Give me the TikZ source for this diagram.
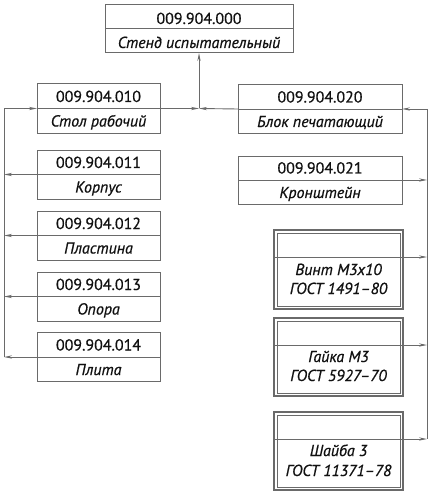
\documentclass[tikz,border=0pt]{standalone}
\usepackage{fontspec}
\setmainfont[FakeBold=0.7]{PT Sans}
\usetikzlibrary{arrows.meta,calc}
\definecolor{ln}{HTML}{6A6A6A}
\definecolor{tx}{HTML}{111111}
\begin{document}
\begin{tikzpicture}[x=1bp,y=-1bp,
 box/.style={draw=ln,line width=1pt,rectangle,inner sep=0,outer sep=0},
 num/.style={text=tx,font=\fontsize{16}{19}\selectfont,inner sep=0,anchor=base},
 nm/.style={text=tx,font=\fontsize{16}{19}\selectfont\itshape,inner sep=0,anchor=base},
 con/.style={draw=ln,line width=0.9pt},
 arr/.style={-{Stealth[length=8bp,width=3.2bp]}}
]
\useasboundingbox (0,0) rectangle (437,500);
% simple boxes
\node[box,minimum width=188bp,minimum height=48bp] (n000) at (199,29) {};
\node[box,minimum width=123bp,minimum height=49bp] (n010) at (98.5,108.5) {};
\node[box,minimum width=123bp,minimum height=49bp] (n011) at (98.5,174.5) {};
\node[box,minimum width=123bp,minimum height=49bp] (n012) at (98.5,235.5) {};
\node[box,minimum width=123bp,minimum height=49bp] (n013) at (98.5,296.5) {};
\node[box,minimum width=123bp,minimum height=49bp] (n014) at (98.5,357) {};
\node[box,minimum width=164bp,minimum height=48bp] (n020) at (320,109) {};
\node[box,minimum width=164bp,minimum height=48bp] (n021) at (320,180) {};
\foreach \b in {n000,n010,n011,n012,n013,n014,n020,n021}
  \draw[ln,line width=1pt] (\b.west) -- (\b.east);
% texts
\node[num] (t000a) at (199,24) {009.904.000};
\node[nm]  (t000b) at (199,48) {Стенд испытательный};
\node[num] (t010a) at (98.5,102) {009.904.010};
\node[nm]  (t010b) at (98.5,126.5) {Стол рабочий};
\node[num] (t011a) at (98.5,168) {009.904.011};
\node[nm]  (t011b) at (98.5,192.5) {Корпус};
\node[num] (t012a) at (98.5,229) {009.904.012};
\node[nm]  (t012b) at (98.5,253.5) {Пластина};
\node[num] (t013a) at (98.5,290) {009.904.013};
\node[nm]  (t013b) at (98.5,314.5) {Опора};
\node[num] (t014a) at (98.5,350.5) {009.904.014};
\node[nm]  (t014b) at (98.5,375) {Плита};
\node[num] (t020a) at (320,102.5) {009.904.020};
\node[nm]  (t020b) at (320,127) {Блок печатающий};
\node[num] (t021a) at (320,173.5) {009.904.021};
\node[nm]  (t021b) at (320,198) {Кронштейн};
% standard items (double border)
\node[box,line width=1.3pt,minimum width=129bp,minimum height=79bp] (s1) at (338.5,269.5) {};
\node[box,line width=1.3pt,minimum width=129bp,minimum height=78bp] (s2) at (338.5,357) {};
\node[box,line width=1.3pt,minimum width=129bp,minimum height=78bp] (s3) at (338.5,451) {};
\foreach \b in {s1,s2,s3}
  \draw[ln,line width=0.7pt] ([shift={(3,3)}]\b.north west) rectangle ([shift={(-3,-3)}]\b.south east);
\coordinate (s1w) at (274,257); \coordinate (s1e) at (403,257);
\coordinate (s2w) at (274,345); \coordinate (s2e) at (403,345);
\coordinate (s3w) at (274,439); \coordinate (s3e) at (403,439);
\draw[ln,line width=1pt] (s1w) -- (s1e);
\draw[ln,line width=1pt] (s2w) -- (s2e);
\draw[ln,line width=1pt] (s3w) -- (s3e);
\node[nm] (ts1a) at (338.5,275) {Винт М3х10};
\node[nm] (ts1b) at (338.5,294) {ГОСТ 1491--80};
\node[nm] (ts2a) at (338.5,362) {Гайка М3};
\node[nm] (ts2b) at (338.5,381) {ГОСТ 5927--70};
\node[nm] (ts3a) at (338.5,456) {Шайба 3};
\node[nm] (ts3b) at (338.5,476) {ГОСТ 11371--78};
% connectors: left
\coordinate (L0) at (4,108.5);
\coordinate (J) at (n000.south |- n010.east);
\draw[con] (L0) -- (L0 |- n014.west);
\draw[con,arr] (L0) -- (n010.west);
\foreach \b in {n011,n012,n013,n014}
  \draw[con,arr] (\b.west) -- (\b.west -| L0);
\draw[con,arr] (n010.east) -- (J);
\draw[con,arr] (n020.west) -- (J);
\draw[con,arr] (J) -- (n000.south);
% connectors: right
\coordinate (R0) at (427,109);
\draw[con] (R0) -- (R0 |- s3e);
\draw[con,arr] (R0) -- (n020.east);
\draw[con,arr] (n021.east) -- (n021.east -| R0);
\draw[con,arr] (s1e) -- (s1e -| R0);
\draw[con,arr] (s2e) -- (s2e -| R0);
\draw[con,arr] (s3e) -- (s3e -| R0);
\end{tikzpicture}
\end{document}
